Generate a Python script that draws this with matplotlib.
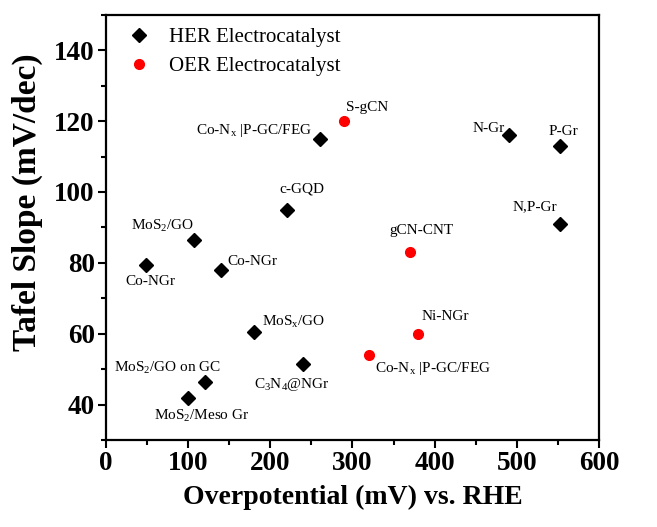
import matplotlib
matplotlib.use("Agg")
import matplotlib.pyplot as plt

plt.rcParams["font.family"] = ["Liberation Serif", "DejaVu Serif"]
plt.rcParams["mathtext.default"] = "regular"

# HER electrocatalysts
her_names = ["Co-NGr", "MoS$_2$/GO", "Co-NGr", "c-GQD", "Co-N$_x$ |P-GC/FEG",
             "MoS$_x$/GO", "C$_3$N$_4$@NGr", "MoS$_2$/GO on GC", "MoS$_2$/Meso Gr",
             "N-Gr", "P-Gr", "N,P-Gr"]
her_x = [49, 107, 140, 220, 260, 180, 240, 121, 100, 490, 552, 552]
her_y = [79.5, 86.5, 78, 95, 115, 60.5, 51.5, 46.3, 42, 116, 113, 91]

# OER electrocatalysts
oer_names = ["S-gCN", "gCN-CNT", "Ni-NGr", "Co-N$_x$ |P-GC/FEG"]
oer_x = [290, 370, 380, 320]
oer_y = [120, 83, 60, 54]

# label offsets in pixels (dx, dy, ha, va)
her_off = [(4, -10, "center", "top"), (0, 6, "right", "bottom"), (6, 2, "left", "bottom"),
           (15, 14, "center", "bottom"), (-8, 0, "right", "bottom"), (8, 2, "left", "bottom"),
           (-11, -12, "center", "top"), (-38, 6, "center", "bottom"), (14, -10, "center", "top"),
           (-4, 0, "right", "bottom"), (4, 8, "center", "bottom"), (-3, 11, "right", "bottom")]
oer_off = [(2, 7, "left", "bottom"), (11, 15, "center", "bottom"), (3, 11, "left", "bottom"),
           (6, -5, "left", "top")]

fig = plt.figure(figsize=(6.57, 5.27), dpi=100)
ax = fig.add_axes([0.161, 0.165, 0.751, 0.807])

ax.plot(her_x, her_y, "D", color="black", markersize=7, label="HER Electrocatalyst")
ax.plot(oer_x, oer_y, "o", color="red", markersize=7, label="OER Electrocatalyst")

for name, x, y, (dx, dy, ha, va) in zip(her_names, her_x, her_y, her_off):
    ax.annotate(name, (x, y), xytext=(dx, dy), textcoords="offset pixels",
                ha=ha, va=va, fontsize=11)
for name, x, y, (dx, dy, ha, va) in zip(oer_names, oer_x, oer_y, oer_off):
    ax.annotate(name, (x, y), xytext=(dx, dy), textcoords="offset pixels",
                ha=ha, va=va, fontsize=11)

ax.set_xlim(0, 600)
ax.set_ylim(30, 150)
ax.set_xticks(range(0, 601, 100))
ax.set_xticks(range(0, 601, 50), minor=True)
ax.set_yticks(range(40, 141, 20))
ax.set_yticks(range(30, 151, 10), minor=True)
ax.tick_params(which="major", direction="out", length=6, width=1.5, labelsize=19.5,
               top=False, right=False, pad=2)
ax.tick_params(which="minor", direction="out", length=3.5, width=1.5, top=False, right=False)
for lbl in ax.get_xticklabels() + ax.get_yticklabels():
    lbl.set_fontweight("bold")
for sp in ax.spines.values():
    sp.set_linewidth(1.6)

ax.set_xlabel("Overpotential (mV) vs. RHE", fontsize=20, fontweight="bold", labelpad=6)
ax.set_ylabel("Tafel Slope (mV/dec)", fontsize=24, fontweight="bold")
ax.yaxis.set_label_coords(-0.128, 0.56)

ax.legend(loc="upper left", frameon=False, fontsize=15, handletextpad=0.45,
          borderaxespad=0.2, labelspacing=0.45)

fig.savefig("out.png", dpi=100)
